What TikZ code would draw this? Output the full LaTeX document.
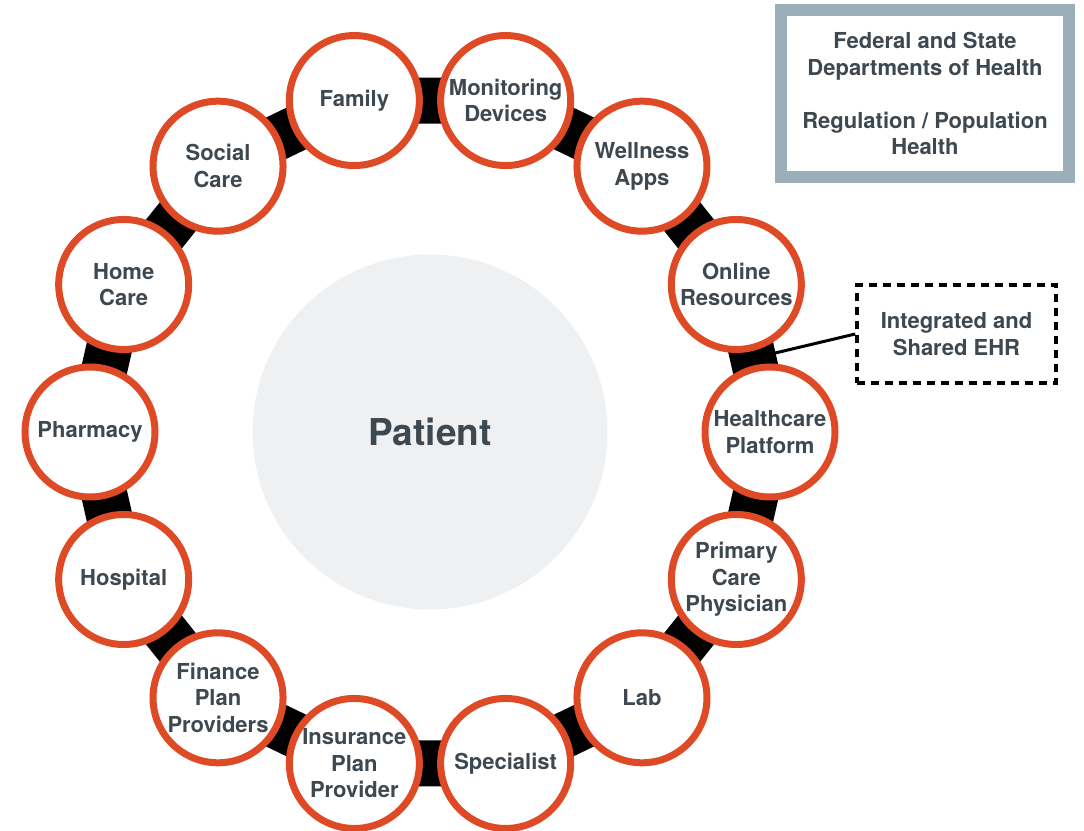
\documentclass[tikz,border=0pt]{standalone}
\usepackage{fontspec}
\setmainfont{TeX Gyre Heros}
\usetikzlibrary{shapes,calc,backgrounds}

\definecolor{ringred}{RGB}{223,74,38}
\definecolor{labelgray}{RGB}{62,72,80}
\definecolor{hubgray}{RGB}{238,240,241}
\definecolor{framegray}{RGB}{154,175,185}
\newcommand{\ringfont}{\fontsize{22}{26.5}\selectfont\bfseries}

\tikzstyle{member} = [circle, draw=ringred, line width=7pt, fill=white,
    minimum size=130pt, inner sep=0pt, align=center, text=labelgray, font=\ringfont]
\tikzstyle{hub} = [circle, fill=hubgray, minimum size=355pt, text=labelgray,
    font=\fontsize{37}{40}\selectfont\bfseries]
\tikzstyle{agency} = [rectangle, draw=framegray, line width=12pt, fill=white,
    minimum width=288pt, minimum height=167pt, align=center, text=labelgray, font=\ringfont]
\tikzstyle{ehr} = [rectangle, draw, line width=3.5pt, dash pattern=on 8pt off 6pt,
    minimum width=199pt, minimum height=98pt, align=center, text=labelgray, font=\ringfont]
\tikzstyle{link} = [draw, line width=46pt, line join=round]
\tikzstyle{tie} = [draw, line width=3pt]

\begin{document}
\begin{tikzpicture}[x=1pt, y=1pt]
    \useasboundingbox (0,0) rectangle (1084,830);
    % Patient in the middle
    \node [hub] (patient) at (430,398) {Patient};
    % Place nodes round the ring
    \node [member] (family) at ($(patient)+(102.857:340)$) {Family};
    \node [member] (monitoring) at ($(patient)+(77.143:340)$) {Monitoring\\Devices};
    \node [member] (wellness) at ($(patient)+(51.429:340)$) {Wellness\\Apps};
    \node [member] (online) at ($(patient)+(25.714:340)$) {Online\\Resources};
    \node [member] (platform) at ($(patient)+(0:340)$) {Healthcare\\Platform};
    \node [member] (primary) at ($(patient)+(-25.714:340)$) {Primary\\Care\\Physician};
    \node [member] (lab) at ($(patient)+(-51.429:340)$) {Lab};
    \node [member] (specialist) at ($(patient)+(-77.143:340)$) {Specialist};
    \node [member] (insurance) at ($(patient)+(-102.857:340)$) {Insurance\\Plan\\Provider};
    \node [member] (finance) at ($(patient)+(-128.571:340)$) {Finance\\Plan\\Providers};
    \node [member] (hospital) at ($(patient)+(-154.286:340)$) {Hospital};
    \node [member] (pharmacy) at ($(patient)+(180:340)$) {Pharmacy};
    \node [member] (homecare) at ($(patient)+(154.286:340)$) {Home\\Care};
    \node [member] (social) at ($(patient)+(128.571:340)$) {Social\\Care};
    % Boxes on the right
    \node [agency] (agency) at (925,736.5) {Federal and State\\Departments of Health\\[26.5pt]Regulation / Population\\Health};
    \node [ehr] (ehr) at (956.5,496) {Integrated and\\Shared EHR};
    \coordinate (ehrjoint) at ($(online)!0.5!(platform)$);
    % Draw edges behind the circles
    \begin{scope}[on background layer]
        \path [tie] (ehr.west) -- (ehrjoint);
        \path [link] (family.center) -- (monitoring.center) -- (wellness.center)
            -- (online.center) -- (platform.center) -- (primary.center)
            -- (lab.center) -- (specialist.center) -- (insurance.center)
            -- (finance.center) -- (hospital.center) -- (pharmacy.center)
            -- (homecare.center) -- (social.center) -- cycle;
    \end{scope}
\end{tikzpicture}
\end{document}
